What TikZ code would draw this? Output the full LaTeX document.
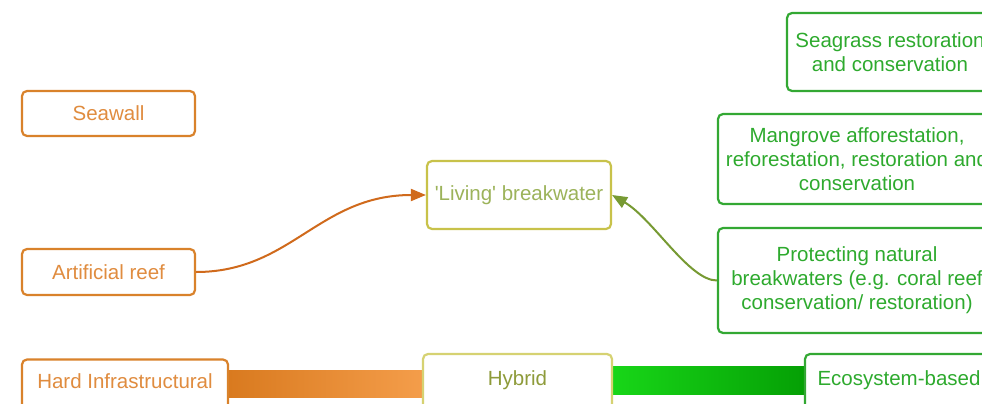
\documentclass[tikz,border=0pt]{standalone}
\usepackage{fontspec}
\setmainfont{Liberation Sans}
\usetikzlibrary{arrows.meta,backgrounds}
\definecolor{orB}{HTML}{D9822B}
\definecolor{orT}{HTML}{E08C3F}
\definecolor{lbB}{HTML}{C8C24A}
\definecolor{lbT}{HTML}{9CB35A}
\definecolor{hyB}{HTML}{D6D272}
\definecolor{hyT}{HTML}{8E9B3A}
\definecolor{grB}{HTML}{33A833}
\definecolor{grT}{HTML}{2EAA2E}
\definecolor{orA}{HTML}{D06A1C}
\definecolor{grA}{HTML}{779A33}
\definecolor{barO1}{HTML}{D97A1F}
\definecolor{barO2}{HTML}{F49D4A}
\definecolor{barG1}{HTML}{18D618}
\definecolor{barG2}{HTML}{05A005}
\tikzset{
  box/.style={draw, line width=2.2pt, rounded corners=5pt, inner sep=0pt, align=center,
    font=\fontsize{20.5}{24}\selectfont},
  orbox/.style={box, draw=orB, text=orT},
  grbox/.style={box, draw=grB, text=grT},
  lbbox/.style={box, draw=lbB, text=lbT},
  hybox/.style={box, draw=hyB, text=hyT},
  link/.style={line width=2pt, -{Triangle[length=15pt,width=12pt]}},
}
\begin{document}
\begin{tikzpicture}[x=1pt,y=-1pt]
\useasboundingbox (0,0) rectangle (982,404);
\clip (0,0) rectangle (982,404);
% left column
\node[orbox, minimum width=173pt, minimum height=45pt] (seawall) at (108.5,113.5) {Seawall};
\node[orbox, minimum width=173pt, minimum height=46pt] (artreef) at (108.5,272) {Artificial reef};
% middle
\node[lbbox, minimum width=184pt, minimum height=68pt] (lb) at (519,195) {\textquotesingle Living\textquotesingle{} breakwater};
% right column
\node[grbox, minimum width=206pt, minimum height=78pt] (seagrass) at (890,52) {Seagrass restoration\\and conservation};
\node[grbox, minimum width=278pt, minimum height=90pt] (mangrove) at (857,159) {Mangrove afforestation,\\reforestation, restoration and\\conservation};
\node[grbox, minimum width=278pt, minimum height=105pt] (protect) at (857,280.5) {Protecting natural\\breakwaters (e.g. coral reef\\conservation/ restoration)};
% bottom row
\node[orbox, minimum width=206pt, anchor=base, text height=29pt, text depth=30pt] (hard) at (125,388.5) {Hard Infrastructural};
\node[hybox, minimum width=189pt, anchor=base, text height=31.5pt, text depth=30pt] (hybrid) at (517.5,385.5) {Hybrid};
\node[grbox, minimum width=188pt, anchor=base, text height=31.5pt, text depth=30pt] (eco) at (899,385.5) {Ecosystem-based};
% bars
\begin{scope}[on background layer]
\fill[white] (0,0) rectangle (982,404);
\shade[left color=barO1, right color=barO2] (hard.east |- 0,370) rectangle (hybrid.west |- 0,397);
\shade[left color=barG1, right color=barG2] (hybrid.east |- 0,366) rectangle (eco.west |- 0,394);
\end{scope}
% arrows
\draw[link, draw=orA] (artreef.east) .. controls +(95,0) and +(-107,0) .. (lb.west);
\draw[link, draw=grA] (protect.west) .. controls +(-28,0) and +(41,24) .. (lb.east);
\end{tikzpicture}
\end{document}
